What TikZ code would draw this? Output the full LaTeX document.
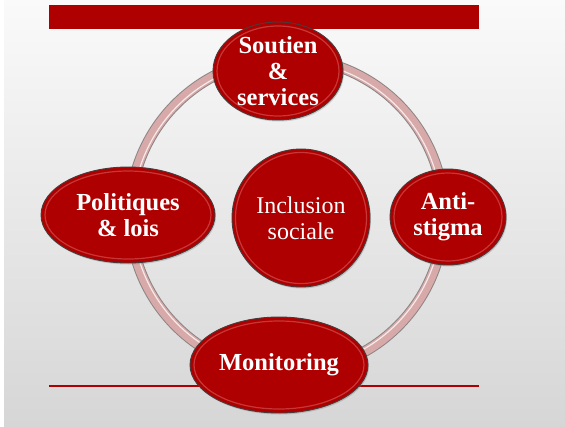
\documentclass[tikz,border=0pt]{standalone}
\usepackage{fontspec}
\setmainfont{Liberation Serif}
\usetikzlibrary{shapes.geometric,shadows}
\definecolor{dred}{HTML}{AE0000}
\definecolor{ringpink}{HTML}{D8A9A9}
\definecolor{ringedge}{HTML}{8C8484}
\begin{document}
\begin{tikzpicture}[x=1pt,y=-1pt,
  bubble/.style={ellipse, fill=dred, draw={rgb,255:red,70;green,60;blue,60}, line width=0.9pt,
    inner sep=0pt, text=white, align=center, font=\fontsize{24.5}{26}\selectfont\bfseries,
    drop shadow={shadow xshift=1pt, shadow yshift=-1.5pt, opacity=0.35}},
  rim/.style={draw={rgb,255:red,225;green,110;blue,110}, line width=1.2pt, opacity=0.5}]
\useasboundingbox (0,0) rectangle (565,426);
\fill[white] (0,0) rectangle (565,426);
\shade[top color={rgb,255:red,250;green,250;blue,250}, bottom color={rgb,255:red,214;green,214;blue,214}] (4,0) rectangle (565,426);
% bars
\fill[dred] (49,5) rectangle (479,29);
\draw[dred, line width=2pt] (49,386) -- (479,386);
% ring
\draw[ringedge, line width=11pt] (287,215) circle (157);
\draw[ringpink, line width=9pt] (287,215) circle (157);
\draw[white, line width=1.2pt, opacity=0.75] (287,215) circle (154.5);
% nodes
\node[bubble, minimum width=130pt, minimum height=98pt] (sout) at (278,71) {Soutien\\\&\\services};
\node[bubble, minimum width=116pt, minimum height=96pt] (anti) at (448,217) {Anti-\\stigma};
\node[bubble, minimum width=174pt, minimum height=96pt] (poli) at (128,215) {Politiques\\\& lois};
\node[bubble, minimum width=178pt, minimum height=96pt] (moni) at (279,365) {Monitoring};
\node[bubble, circle, minimum size=138pt, font=\fontsize{24}{26}\selectfont] (incl) at (301,218) {Inclusion\\sociale};
% glossy rims
\foreach \n/\rx/\ry in {sout/61/45, anti/54/44, poli/83/44, moni/85/44}{
  \draw[rim] (\n.center) ellipse [x radius=\rx, y radius=\ry];
}
\draw[rim] (incl.center) circle (65.5);
\end{tikzpicture}
\end{document}
